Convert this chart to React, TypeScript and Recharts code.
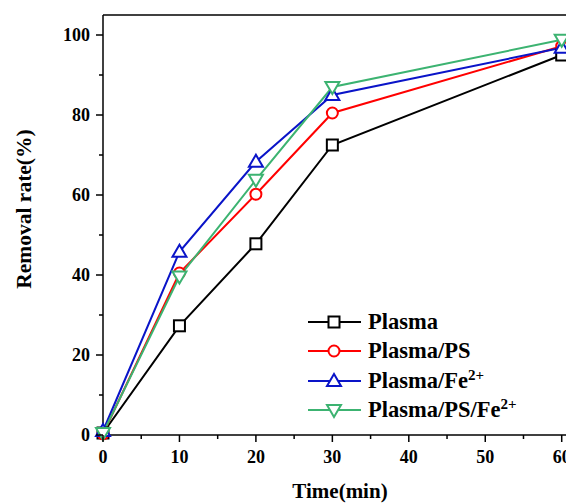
import { LineChart, Line, XAxis, YAxis, ReferenceLine, Legend } from 'recharts'

// time (min)
const TIME = [0, 10, 20, 30, 60]
// removal rate (%)
const PLASMA = [0.5, 27.3, 47.8, 72.5, 95]
const PLASMA_PS = [0.3, 40.5, 60.2, 80.5, 97.2]
const PLASMA_FE = [1, 45.8, 68.3, 85, 96.8]
const PLASMA_PS_FE = [0.5, 39.6, 63.8, 87, 98.8]

const X_TICKS = [0, 5, 10, 15, 20, 25, 30, 35, 40, 45, 50, 55, 60]
const Y_TICKS = [0, 10, 20, 30, 40, 50, 60, 70, 80, 90, 100]

const FONT = '"Liberation Serif", "Times New Roman", serif'

type MarkerKind = 'square' | 'circle' | 'up' | 'down'

const SERIES: { key: string; label: string; sup?: string; color: string; marker: MarkerKind; values: number[] }[] = [
  { key: 'plasma', label: 'Plasma', color: '#000000', marker: 'square', values: PLASMA },
  { key: 'plasmaPs', label: 'Plasma/PS', color: '#ff0000', marker: 'circle', values: PLASMA_PS },
  { key: 'plasmaFe', label: 'Plasma/Fe', sup: '2+', color: '#0a14c8', marker: 'up', values: PLASMA_FE },
  { key: 'plasmaPsFe', label: 'Plasma/PS/Fe', sup: '2+', color: '#3cb371', marker: 'down', values: PLASMA_PS_FE },
]

const chartData = TIME.map((t, i) => {
  const row: Record<string, number> = { time: t }
  SERIES.forEach((s) => {
    row[s.key] = s.values[i]
  })
  return row
})

function Marker({ kind, cx, cy, color }: { kind: MarkerKind; cx: number; cy: number; color: string }) {
  const common = { fill: '#ffffff', stroke: color, strokeWidth: 2 }
  if (kind === 'square') return <rect x={cx - 5.5} y={cy - 5.5} width={11} height={11} {...common} />
  if (kind === 'circle') return <circle cx={cx} cy={cy} r={5.5} {...common} />
  if (kind === 'up')
    return <polygon points={`${cx},${cy - 7} ${cx - 7},${cy + 5} ${cx + 7},${cy + 5}`} {...common} />
  return <polygon points={`${cx},${cy + 7} ${cx - 7},${cy - 5} ${cx + 7},${cy - 5}`} {...common} />
}

// ticks drawn by hand so the minor ones get no label
const YTick = (props: any) => {
  const { x, y, payload } = props
  const major = payload.value % 20 === 0
  return (
    <g>
      <line x1={x - (major ? 7 : 4)} x2={x} y1={y} y2={y} stroke="#000" strokeWidth={1.5} />
      {major && (
        <text x={x - 13} y={y} dy={6} textAnchor="end" fontFamily={FONT} fontWeight="bold" fontSize={18} fill="#000">
          {payload.value}
        </text>
      )}
    </g>
  )
}

const XTick = (props: any) => {
  const { x, y, payload } = props
  const major = payload.value % 10 === 0
  return (
    <g>
      <line x1={x} x2={x} y1={y} y2={y + (major ? 7 : 4)} stroke="#000" strokeWidth={1.5} />
      {major && (
        <text x={x} y={y + 28} textAnchor="middle" fontFamily={FONT} fontWeight="bold" fontSize={18} fill="#000">
          {payload.value}
        </text>
      )}
    </g>
  )
}

const LegendBox = () => (
  <div style={{ fontFamily: FONT, fontWeight: 'bold', fontSize: 22.5, color: '#000' }}>
    {SERIES.map((s) => (
      <div key={s.key} style={{ display: 'flex', alignItems: 'center', height: 29.5 }}>
        <svg width={62} height={20} style={{ flex: 'none' }}>
          <line x1={2} x2={55} y1={10} y2={10} stroke={s.color} strokeWidth={2} />
          <Marker kind={s.marker} cx={28} cy={10} color={s.color} />
        </svg>
        <span style={{ whiteSpace: 'nowrap', lineHeight: 1 }}>
          {s.label}
          {s.sup && <sup style={{ fontSize: 15, lineHeight: 0 }}>{s.sup}</sup>}
        </span>
      </div>
    ))}
  </div>
)

export default function App() {
  return (
    <div style={{ position: 'absolute', left: 0, top: 0, width: 566, height: 503, overflow: 'hidden', background: '#fff' }}>
      <LineChart width={600} height={503} data={chartData} margin={{ top: 15, right: 23, left: 0, bottom: 0 }}>
        <XAxis
          dataKey="time"
          type="number"
          domain={[0, 62]}
          ticks={X_TICKS}
          interval={0}
          tickSize={0}
          tickMargin={0}
          tickLine={false}
          tick={XTick}
          height={68}
          axisLine={{ stroke: '#000', strokeWidth: 1.5 }}
          label={{
            value: 'Time(min)',
            position: 'insideBottom',
            offset: 5,
            style: { fontFamily: FONT, fontWeight: 'bold', fontSize: 21, fill: '#000' },
          }}
        />
        <YAxis
          type="number"
          domain={[0, 105]}
          ticks={Y_TICKS}
          interval={0}
          tickSize={0}
          tickMargin={0}
          tickLine={false}
          tick={YTick}
          width={103}
          axisLine={{ stroke: '#000', strokeWidth: 1.5 }}
          label={{
            content: () => (
              <text
                x={31}
                y={209}
                transform="rotate(-90 31 209)"
                textAnchor="middle"
                fontFamily={FONT}
                fontWeight="bold"
                fontSize={21.5}
                fill="#000"
              >
                Removal rate(%)
              </text>
            ),
          }}
        />
        <ReferenceLine y={105} stroke="#000" strokeWidth={1.5} />
        <Legend
          layout="horizontal"
          align="center"
          verticalAlign="middle"
          content={LegendBox}
          wrapperStyle={{ left: 306, top: 307, width: 260 }}
        />
        {SERIES.map((s) => (
          <Line
            key={s.key}
            dataKey={s.key}
            type="linear"
            stroke={s.color}
            strokeWidth={2}
            isAnimationActive={false}
            dot={(p: any) => <Marker key={`${s.key}-${p.index}`} kind={s.marker} cx={p.cx} cy={p.cy} color={s.color} />}
            activeDot={false}
          />
        ))}
      </LineChart>
    </div>
  )
}
